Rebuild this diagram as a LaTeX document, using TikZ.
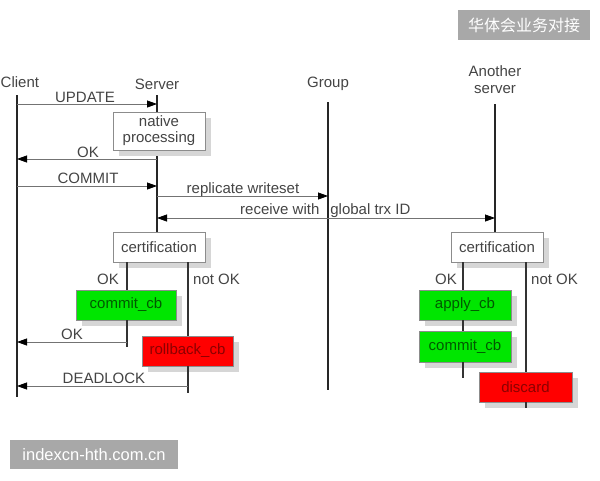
\documentclass[tikz,border=0pt]{standalone}
\usepackage{fontspec}
\setmainfont{Liberation Sans}
\newfontfamily\cjk{Noto Sans CJK SC}
\usetikzlibrary{shadows,arrows.meta,backgrounds}
\definecolor{txtgray}{HTML}{444444}
\definecolor{boxgreen}{HTML}{00E600}
\definecolor{boxred}{HTML}{FF0000}
\definecolor{wmgray}{HTML}{A8A8A8}
\begin{document}
\begin{tikzpicture}[x=1pt,y=-1pt,
  font=\fontsize{15}{17}\selectfont,
  lbl/.style={text=txtgray, inner sep=0pt},
  life/.style={line width=2pt, black!85},
  branch/.style={line width=1.6pt, black!80},
  msg/.style={line width=0.8pt, black!55, -{Triangle[length=10pt,width=7pt,black]}},
  dmsg/.style={line width=0.8pt, black!55, {Triangle[length=10pt,width=7pt,black]}-{Triangle[length=10pt,width=7pt,black]}},
  procbox/.style={draw=black!45, line width=0.8pt, fill=white, text=txtgray, inner sep=1pt, align=center,
    drop shadow={shadow xshift=6pt, shadow yshift=-6pt, fill=black!16, opacity=1}},
  okbox/.style={procbox, fill=boxgreen, text=green!35!black},
  badbox/.style={procbox, fill=boxred, text=red!55!black},
  wm/.style={fill=wmgray, text=white, inner sep=0pt}
]
\useasboundingbox (0,0) rectangle (600,480);

% participant labels
\node[lbl, anchor=base west] (clientL) at (0.5,87) {Client};
\node[lbl, anchor=base] (serverL) at (157,89) {Server};
\node[lbl, anchor=base] (groupL) at (328,87) {Group};
\node[lbl, anchor=base] (anotherL) at (495,76) {Another};
\node[lbl, anchor=base] (anotherL2) at (495,93) {server};

% lifeline coordinates
\coordinate (cTop) at (17,95);   \coordinate (cBot) at (17,397);
\coordinate (sTop) at (157,95);
\coordinate (gTop) at (328,102); \coordinate (gBot) at (328,390);
\coordinate (aTop) at (495,104);

% process boxes
\node[procbox, minimum width=92pt, minimum height=38pt] (native) at (159,131) {native\\[-1pt]processing};
\node[procbox, minimum width=92pt, minimum height=30pt] (certL) at (159,247) {certification};
\node[procbox, minimum width=92pt, minimum height=30pt] (certR) at (497,247) {certification};

% lifelines (behind boxes)
\begin{scope}[on background layer]
\draw[life] (cTop) -- (cBot);
\draw[life] (gTop) -- (gBot);
\draw[life] (sTop) -- (certL.north -| sTop);
\draw[life] (aTop) -- (certR.north -| aTop);
\end{scope}

% branch coordinates
\coordinate (lok) at (127,0);  \coordinate (lno) at (188,0);
\coordinate (rok) at (463,0);  \coordinate (rno) at (526,0);
\coordinate (lokEnd) at (127,347); \coordinate (lnoEnd) at (188,393);
\coordinate (rokEnd) at (463,378); \coordinate (rnoEnd) at (526,408);

% result boxes
\node[okbox, minimum width=100pt, minimum height=30pt] (commitL) at (126,305) {commit\_cb};
\node[badbox, minimum width=91pt, minimum height=30pt] (rollback) at (187.5,351) {rollback\_cb};
\node[okbox, minimum width=92pt, minimum height=30pt] (apply) at (465,305) {apply\_cb};
\node[okbox, minimum width=92pt, minimum height=31pt] (commitR) at (465,346.5) {commit\_cb};
\node[badbox, minimum width=93pt, minimum height=30pt] (discard) at (525.5,387) {discard};

% branch lines
\draw[branch] (certL.south -| lok) -- (commitL.north -| lok);
\draw[branch] (commitL.south -| lok) -- (lokEnd);
\draw[branch] (certL.south -| lno) -- (rollback.north -| lno);
\draw[branch] (rollback.south -| lno) -- (lnoEnd);
\draw[branch] (certR.south -| rok) -- (apply.north -| rok);
\draw[branch] (apply.south -| rok) -- (commitR.north -| rok);
\draw[branch] (commitR.south -| rok) -- (rokEnd);
\draw[branch] (certR.south -| rno) -- (discard.north -| rno);
\draw[branch] (discard.south -| rno) -- (rnoEnd);

% messages
\draw[msg] (cTop |- 0,104) -- (sTop |- 0,104);
\node[lbl, anchor=base] (updL) at (85,102) {UPDATE};
\draw[msg] (sTop |- 0,159) -- (cTop |- 0,159);
\node[lbl, anchor=base] (ok1L) at (88,157) {OK};
\draw[msg] (cTop |- 0,186) -- (sTop |- 0,186);
\node[lbl, anchor=base] (comL) at (88,183) {COMMIT};
\draw[msg] (sTop |- 0,196) -- (gTop |- 0,196);
\node[lbl, anchor=base] (repL) at (243,193) {replicate writeset};
\draw[dmsg] (sTop |- 0,218) -- (aTop |- 0,218);
\node[lbl, anchor=base west] (recvL) at (240,214) {receive with\hspace{11pt}global trx ID};
\draw[msg] (lokEnd |- 0,342) -- (cTop |- 0,342);
\node[lbl, anchor=base] (ok2L) at (72,339) {OK};
\draw[msg] (lnoEnd |- 0,386) -- (cTop |- 0,386);
\node[lbl, anchor=base] (dlL) at (104,383) {DEADLOCK};

% branch labels
\node[lbl, anchor=base] (lokL) at (108,284) {OK};
\node[lbl, anchor=base west] (lnoL) at (193,284) {not OK};
\node[lbl, anchor=base] (rokL) at (446,284) {OK};
\node[lbl, anchor=base west] (rnoL) at (531,284) {not OK};

% watermark labels
\node[wm, minimum width=132pt, minimum height=30pt, font=\cjk\fontsize{16}{18}\selectfont] (wm1) at (524,25) {华体会业务对接};
\node[wm, minimum width=168pt, minimum height=29pt, font=\fontsize{16.5}{18}\selectfont] (wm2) at (94,454.5) {indexcn-hth.com.cn};
\end{tikzpicture}
\end{document}
